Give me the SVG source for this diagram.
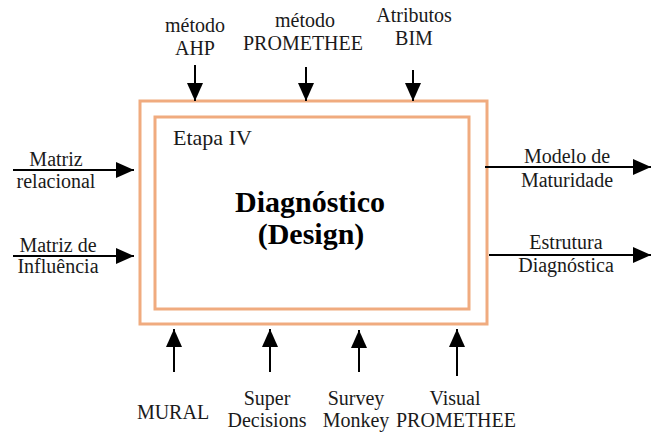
<svg xmlns="http://www.w3.org/2000/svg" width="651" height="434" viewBox="0 0 651 434">
  <defs>
    <style>
      text { font-family: 'Liberation Serif', 'DejaVu Serif', serif; }
      .lbl { font-size: 20px; fill: #1a1a1a; text-anchor: middle; }
      .title { font-size: 30px; font-weight: bold; fill: #000; text-anchor: middle; }
      .stage { font-size: 22px; fill: #1a1a1a; }
      .frame { fill: none; stroke: #F0AB7F; stroke-width: 3; }
      .arrow { stroke: #000; stroke-width: 2; fill: none; marker-end: url(#head); }
    </style>
    <marker id="head" viewBox="0 0 18 16" refX="18" refY="8" markerWidth="18" markerHeight="16" markerUnits="userSpaceOnUse" orient="auto">
      <path d="M0,0 L18,8 L0,16 Z" fill="#000"/>
    </marker>
  </defs>
  <rect width="651" height="434" fill="#fff"/>

  <!-- central process block -->
  <g id="process">
    <rect class="frame" x="140" y="101" width="347" height="223"/>
    <rect class="frame" x="155" y="117" width="314" height="192"/>
    <text class="stage" x="173" y="145">Etapa IV</text>
    <text class="title" x="310" y="212">Diagnóstico</text>
    <text class="title" x="311" y="244">(Design)</text>
  </g>

  <!-- controls (top) -->
  <g id="ctrl-ahp">
    <text class="lbl" x="195" y="32">método</text>
    <text class="lbl" x="195" y="55">AHP</text>
  </g>
  <g id="ctrl-promethee">
    <text class="lbl" x="305" y="27">método</text>
    <text class="lbl" x="303" y="50">PROMETHEE</text>
  </g>
  <g id="ctrl-bim">
    <text class="lbl" x="414" y="22">Atributos</text>
    <text class="lbl" x="414" y="45">BIM</text>
  </g>

  <!-- inputs (left) -->
  <g id="in-relacional">
    <text class="lbl" x="56" y="166">Matriz</text>
    <text class="lbl" x="56" y="188">relacional</text>
  </g>
  <g id="in-influencia">
    <text class="lbl" x="58" y="252">Matriz de</text>
    <text class="lbl" x="58" y="273">Influência</text>
  </g>

  <!-- outputs (right) -->
  <g id="out-maturidade">
    <text class="lbl" x="567" y="163">Modelo de</text>
    <text class="lbl" x="567" y="187">Maturidade</text>
  </g>
  <g id="out-estrutura">
    <text class="lbl" x="566" y="249">Estrutura</text>
    <text class="lbl" x="566" y="272">Diagnóstica</text>
  </g>

  <!-- mechanisms (bottom) -->
  <g id="mech-mural">
    <text class="lbl" x="173" y="419">MURAL</text>
  </g>
  <g id="mech-superdecisions">
    <text class="lbl" x="267" y="405">Super</text>
    <text class="lbl" x="267" y="427">Decisions</text>
  </g>
  <g id="mech-surveymonkey">
    <text class="lbl" x="356" y="405">Survey</text>
    <text class="lbl" x="356" y="427">Monkey</text>
  </g>
  <g id="mech-visualpromethee">
    <text class="lbl" x="455" y="405">Visual</text>
    <text class="lbl" x="456" y="427">PROMETHEE</text>
  </g>

  <!-- connectors -->
  <g id="connectors">
    <line class="arrow" x1="195" y1="65" x2="195" y2="101"/>
    <line class="arrow" x1="306" y1="67" x2="306" y2="101"/>
    <line class="arrow" x1="413" y1="70" x2="413" y2="101"/>
    <line class="arrow" x1="13" y1="170" x2="134" y2="170"/>
    <line class="arrow" x1="13" y1="256" x2="134" y2="256"/>
    <line class="arrow" x1="485" y1="167" x2="651" y2="167"/>
    <line class="arrow" x1="489" y1="255" x2="651" y2="255"/>
    <line class="arrow" x1="174" y1="372" x2="174" y2="329"/>
    <line class="arrow" x1="270" y1="372" x2="270" y2="329"/>
    <line class="arrow" x1="359" y1="372" x2="359" y2="330"/>
    <line class="arrow" x1="457" y1="376" x2="457" y2="329"/>
  </g>
</svg>
